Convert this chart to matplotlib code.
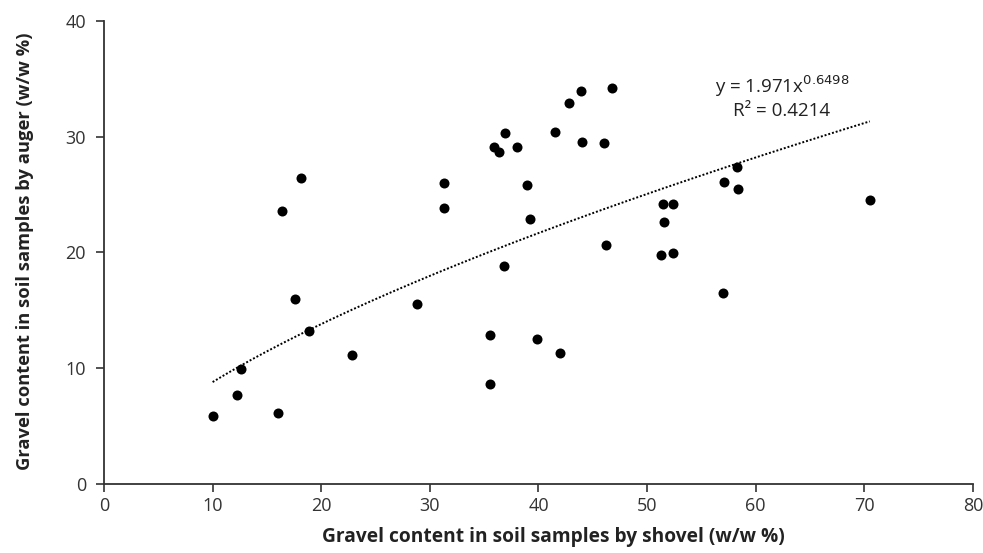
import numpy as np
import matplotlib
matplotlib.use("Agg")
import matplotlib.pyplot as plt

plt.rcParams['font.family'] = ['Open Sans', 'DejaVu Sans']

shovel = [10.0, 12.2, 12.6, 16.0, 17.6, 18.9, 22.8, 28.8, 16.4, 18.1, 31.3, 31.3,
          36.9, 35.9, 36.4, 38.0, 41.5, 42.8, 43.9, 46.8, 44.0, 46.0, 38.9, 39.2,
          36.8, 46.2, 51.5, 52.4, 51.6, 51.3, 52.4, 35.5, 39.9, 42.0, 35.5,
          58.3, 57.1, 58.4, 70.5, 57.0]
auger = [5.9, 7.7, 9.9, 6.1, 16.0, 13.2, 11.1, 15.5, 23.6, 26.4, 26.0, 23.8,
         30.3, 29.1, 28.7, 29.1, 30.4, 32.9, 33.9, 34.2, 29.5, 29.4, 25.8, 22.9,
         18.8, 20.6, 24.2, 24.2, 22.6, 19.8, 19.9, 12.9, 12.5, 11.3, 8.6,
         27.4, 26.1, 25.5, 24.5, 16.5]

fit_a = 1.971
fit_b = 0.6498
fit_r2 = 0.4214

x_ticks = [0, 10, 20, 30, 40, 50, 60, 70, 80]
y_ticks = [0, 10, 20, 30, 40]

fig = plt.figure(figsize=(9.83, 5.53), dpi=100)
ax = fig.add_axes([0.1058, 0.1248, 0.8840, 0.8378])

ax.scatter(shovel, auger, s=52, color='black', zorder=3, linewidths=0)

xs = np.linspace(min(shovel), max(shovel), 200)
ax.plot(xs, fit_a * xs ** fit_b, color='black', linestyle=(0, (1, 1)), lw=1.4, zorder=2)

ax.text(782 / 983, 1 - 86 / 553, r'y = 1.971x$^{0.6498}$', transform=fig.transFigure,
        ha='center', va='center', fontsize=13.5, color='#222222')
ax.text(782 / 983, 1 - 111 / 553, 'R² = 0.4214', transform=fig.transFigure,
        ha='center', va='center', fontsize=13.5, color='#222222')

ax.set_xlim(0, 80)
ax.set_ylim(0, 40)
ax.set_xticks(x_ticks)
ax.set_yticks(y_ticks)
ax.tick_params(direction='out', length=6, width=1.2, color='#333333',
               labelsize=13, labelcolor='#333333')
ax.tick_params(axis='y', pad=7)
for s in ['top', 'right']:
    ax.spines[s].set_visible(False)
for s in ['left', 'bottom']:
    ax.spines[s].set_color('#333333')
    ax.spines[s].set_linewidth(1.3)

ax.set_xlabel('Gravel content in soil samples by shovel (w/w %)', fontsize=13.8,
              fontweight='bold', color='#222222')
ax.set_ylabel('Gravel content in soil samples by auger (w/w %)', fontsize=13.2,
              fontweight='bold', color='#222222')
ax.xaxis.set_label_coords((553 - 104) / 869, (484 - 537) / 463.3)
ax.yaxis.set_label_coords((25 - 104) / 869, (484 - 251) / 463.3)
ax.xaxis.label.set_va('center')
ax.yaxis.label.set_va('center')

fig.savefig('out.png', dpi=100)
